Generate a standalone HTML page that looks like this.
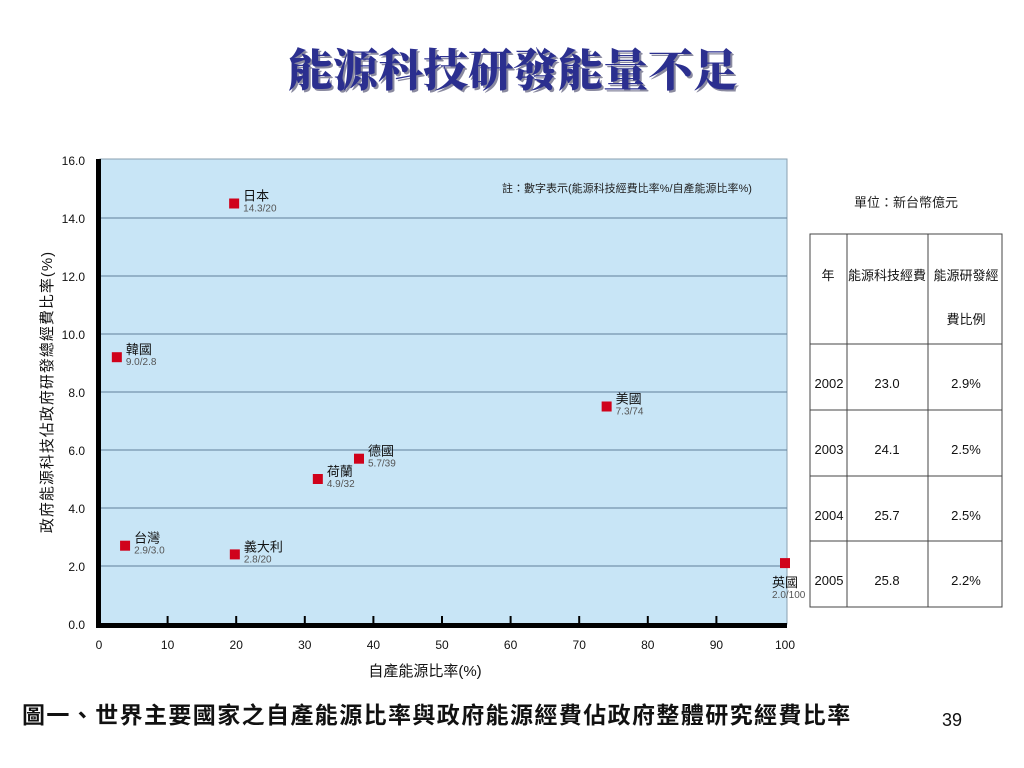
<!DOCTYPE html>
<html><head><meta charset="utf-8">
<style>
body{margin:0;width:1024px;height:768px;background:#fff;overflow:hidden;font-family:"Liberation Sans","Noto Sans CJK TC",sans-serif;}
svg{position:absolute;left:0;top:0}
</style></head>
<body>
<svg id="chart" width="1024" height="768" xmlns="http://www.w3.org/2000/svg">
<text x="513" y="86" text-anchor="middle" font-family="'Noto Serif CJK TC','Noto Serif CJK SC',serif" font-weight="900" font-size="45" fill="#8a8aa0" transform="translate(2,2)">能源科技研發能量不足</text>
<text x="513" y="86" text-anchor="middle" font-family="'Noto Serif CJK TC','Noto Serif CJK SC',serif" font-weight="900" font-size="45" fill="#2b2f8f">能源科技研發能量不足</text>
<rect x="100" y="159" width="687" height="465" fill="#c8e5f6" stroke="#8aa0b0" stroke-width="1"/>
<g id="grid"></g>
<g id="axes"></g>
<g id="points"></g>
<text transform="translate(52,392) rotate(-90)" text-anchor="middle" font-size="15" fill="#111" letter-spacing="1">政府能源科技佔政府研發總經費比率(%)</text>
<text x="425" y="676" text-anchor="middle" font-size="15" fill="#111">自產能源比率(%)</text>
<text x="502" y="192" font-size="11" fill="#222">註：數字表示(能源科技經費比率%/自產能源比率%)</text>
<text x="906" y="207" text-anchor="middle" font-size="13" fill="#222">單位：新台幣億元</text>
<g font-size="13" fill="#111" stroke="none">
<rect x="810" y="234" width="192" height="373" fill="none" stroke="#444" stroke-width="1"/>
<line x1="847" y1="234" x2="847" y2="607" stroke="#444"/>
<line x1="928" y1="234" x2="928" y2="607" stroke="#444"/>
<line x1="810" y1="344" x2="1002" y2="344" stroke="#444"/>
<line x1="810" y1="410" x2="1002" y2="410" stroke="#444"/>
<line x1="810" y1="476" x2="1002" y2="476" stroke="#444"/>
<line x1="810" y1="541" x2="1002" y2="541" stroke="#444"/>
<text x="828" y="280" text-anchor="middle">年</text>
<text x="887" y="280" text-anchor="middle">能源科技經費</text>
<text x="966" y="280" text-anchor="middle">能源研發經</text>
<text x="966" y="324" text-anchor="middle">費比例</text>
<g id="tablerows"></g>
</g>
<text x="22" y="723" font-size="23" font-weight="bold" letter-spacing="1.4" fill="#111">圖一、世界主要國家之自產能源比率與政府能源經費佔政府整體研究經費比率</text>
<text x="952" y="726" text-anchor="middle" font-size="18" fill="#111">39</text>
</svg>
<script>
const countries=["日本","韓國","台灣","義大利","荷蘭","德國","美國","英國"];
const selfRatio=[19.7,2.6,3.8,19.8,31.9,37.9,74,100];
const rdRatio=[14.5,9.2,2.7,2.4,5.0,5.7,7.5,2.1];
const valueLabels=["14.3/20","9.0/2.8","2.9/3.0","2.8/20","4.9/32","5.7/39","7.3/74","2.0/100"];
const yTicks=[0,2,4,6,8,10,12,14,16];
const xTicks=[0,10,20,30,40,50,60,70,80,90,100];
const years=["2002","2003","2004","2005"];
const budget=["23.0","24.1","25.7","25.8"];
const budgetPct=["2.9%","2.5%","2.5%","2.2%"];
const NS="http://www.w3.org/2000/svg";
const X=v=>99+v*6.86, Y=v=>624-v*29;
function mk(tag,at,parent,txt){const e=document.createElementNS(NS,tag);for(const k in at)e.setAttribute(k,at[k]);if(txt!==undefined)e.textContent=txt;parent.appendChild(e);return e;}
const grid=document.getElementById('grid'),axes=document.getElementById('axes'),pts=document.getElementById('points'),tr=document.getElementById('tablerows');
yTicks.forEach(t=>{
 if(t>0&&t<16){const l=mk('line',{x1:100,x2:787,y1:Y(t),y2:Y(t),stroke:'#5f7f9a','stroke-width':1},grid);
 
 }
 const tx=mk('text',{x:85,y:Y(t)+5,'text-anchor':'end','font-size':12,fill:'#111'},axes,t.toFixed(1));
 
 
});
const ya=mk('rect',{x:96,y:159,width:5,height:469,fill:'#000'},axes);


const xa=mk('rect',{x:96,y:623,width:691,height:5,fill:'#000'},axes);


xTicks.forEach(t=>{
 if(t>0&&t<100){const l=mk('line',{x1:X(t),x2:X(t),y1:616,y2:623,stroke:'#000','stroke-width':2},axes);
 
 }
 const tx=mk('text',{x:X(t),y:649,'text-anchor':'middle','font-size':12,fill:'#111'},axes,String(t));
 
 
});
countries.forEach((c,i)=>{
 const cx=X(selfRatio[i]),cy=Y(rdRatio[i]);
 const r=mk('rect',{x:cx-5,y:cy-5,width:10,height:10,fill:'#d0021b'},pts);
 
 
 const under=i===7;
 const lx=under?cx-13:cx+9, ly=under?cy+24:cy-3;
 const t1=mk('text',{x:lx,y:ly,'font-size':13,fill:'#111'},pts,c);
 
 
 const t2=mk('text',{x:lx,y:ly+11,'font-size':10,fill:'#555'},pts,valueLabels[i]);
 
 
});
const rowY=[388,454,520,585];
years.forEach((y,i)=>{
 const a=mk('text',{x:829,y:rowY[i],'text-anchor':'middle','font-size':13},tr,y);
 
 
 const b=mk('text',{x:887,y:rowY[i],'text-anchor':'middle','font-size':13},tr,budget[i]);
 
 
 const c=mk('text',{x:966,y:rowY[i],'text-anchor':'middle','font-size':13},tr,budgetPct[i]);
 
 
});
</script>
</body></html>
